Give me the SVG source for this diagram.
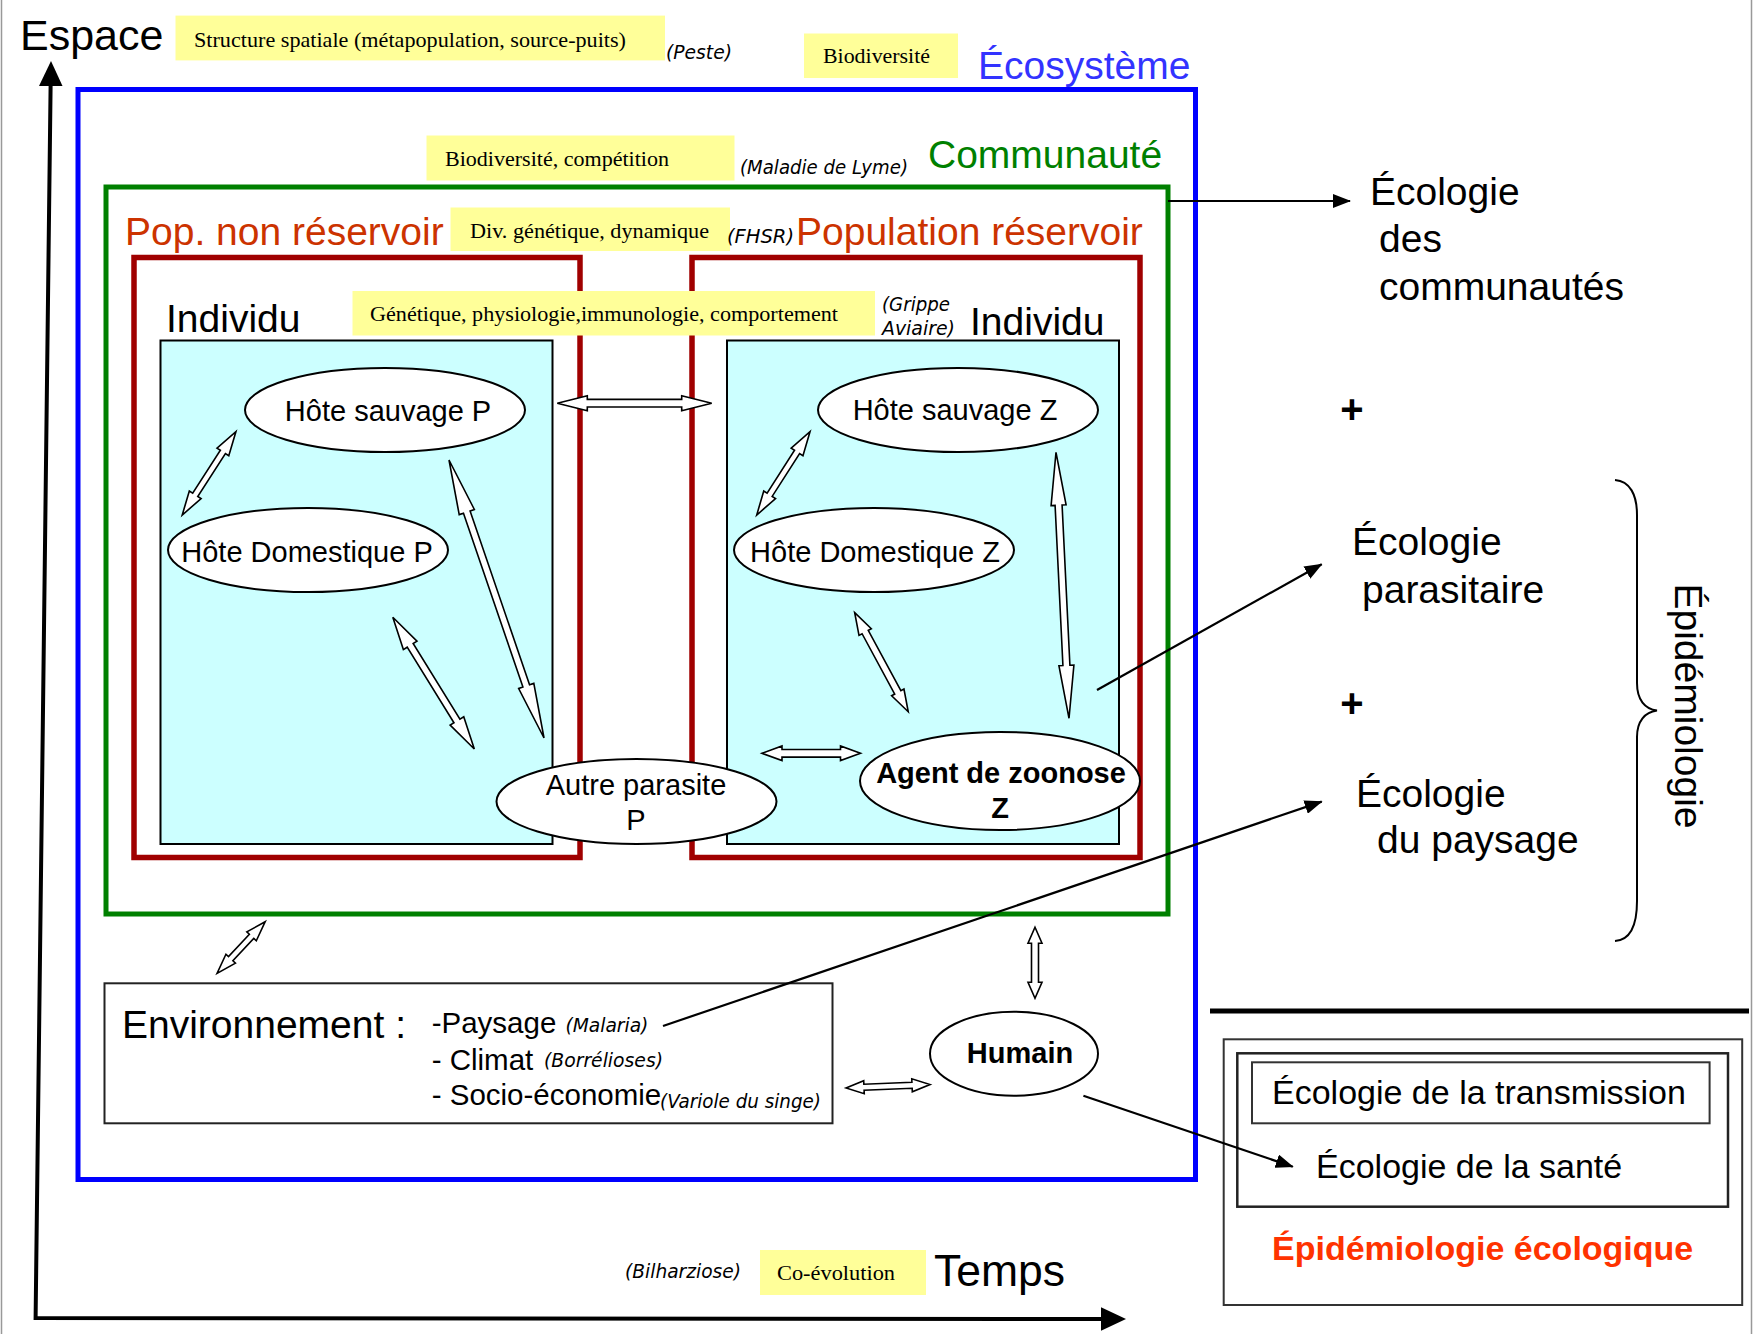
<svg xmlns="http://www.w3.org/2000/svg" width="1753" height="1334" viewBox="0 0 1753 1334">
<style>
 .sans{font-family:"Liberation Sans",Arial,sans-serif;fill:#000;}
 .big{font-family:"Liberation Sans",Arial,sans-serif;font-size:39px;fill:#000;}
 .ax{font-family:"Liberation Sans",Arial,sans-serif;font-size:43px;fill:#000;}
 .ell{font-family:"Liberation Sans",Arial,sans-serif;font-size:29px;fill:#000;}
 .br{font-family:"Liberation Sans",Arial,sans-serif;font-size:34px;fill:#000;}
 .serif{font-family:"Liberation Serif","Times New Roman",serif;font-size:22px;fill:#000;}
 .it{font-family:"DejaVu Sans",sans-serif;font-style:italic;font-size:19.5px;fill:#000;}
 .yel{fill:#ffff99;stroke:none;}
 .oval{fill:#fff;stroke:#000;stroke-width:2;}
 .cyan{fill:#ccffff;stroke:#000;stroke-width:2;}
 .red{fill:none;stroke:#a00000;stroke-width:5.5;}
 .blk{fill:#fff;stroke:#000;stroke-width:1.6;stroke-linejoin:miter;}
 .ln{fill:none;stroke:#000;stroke-width:2.2;marker-end:url(#ah);}
</style>
<defs>
 <marker id="ah" markerUnits="userSpaceOnUse" markerWidth="18" markerHeight="14" refX="17" refY="7" orient="auto"><path d="M0,0 L18,7 L0,14 z" fill="#000"/></marker>
</defs>

<!-- frame -->
<line x1="1.5" y1="0" x2="1.5" y2="1334" stroke="#999" stroke-width="1.5"/>
<line x1="1751.5" y1="0" x2="1751.5" y2="1334" stroke="#999" stroke-width="1.5"/>

<!-- axes -->
<g id="axes">
 <path d="M50.6,86 L35.6,1318 L1102,1319" fill="none" stroke="#000" stroke-width="4"/>
 <polygon points="51,61 39,86 62.5,86" fill="#000"/>
 <polygon points="1126,1319 1101,1307.3 1101,1330.7" fill="#000"/>
 <text class="ax" x="20" y="50">Espace</text>
 <text class="ax" x="934" y="1286" font-size="44.5" style="font-size:44.5px">Temps</text>
</g>

<!-- Ecosysteme -->
<g id="ecosysteme">
 <rect x="78" y="89.5" width="1117.5" height="1090" fill="none" stroke="#0000ff" stroke-width="5"/>
 <text class="big" x="978" y="79" style="fill:#3333ff">Écosystème</text>
</g>

<!-- Communaute -->
<g id="communaute">
 <rect x="106" y="187" width="1062" height="727" fill="none" stroke="#008000" stroke-width="5"/>
 <text class="big" x="928" y="168" style="fill:#008000">Communauté</text>
</g>

<!-- populations -->
<g id="pop-non-reservoir">
 <rect class="red" x="134" y="257.5" width="446" height="600"/>
 <text class="big" x="125" y="245" style="fill:#cc3300">Pop. non réservoir</text>
</g>
<g id="pop-reservoir">
 <rect class="red" x="692" y="257.5" width="448" height="600"/>
 <text class="big" x="796" y="245" style="fill:#cc3300">Population réservoir</text>
</g>

<!-- individus -->
<g id="individu-p">
 <rect class="cyan" x="160.5" y="340.5" width="392" height="503.5"/>
 <text class="big" x="166" y="332">Individu</text>
</g>
<g id="individu-z">
 <rect class="cyan" x="727" y="340.5" width="392" height="503.5"/>
 <text class="big" x="970" y="335">Individu</text>
</g>

<!-- yellow labels -->
<g id="label-structure">
 <rect class="yel" x="175.5" y="15.6" width="489.5" height="44.8"/>
 <text class="serif" x="194" y="47" textLength="432" lengthAdjust="spacingAndGlyphs">Structure spatiale (métapopulation, source-puits)</text>
 <text class="it" x="666" y="59" textLength="66" lengthAdjust="spacingAndGlyphs">(Peste)</text>
</g>
<g id="label-biodiv">
 <rect class="yel" x="804" y="33.5" width="154" height="44.5"/>
 <text class="serif" x="823" y="63" textLength="107" lengthAdjust="spacingAndGlyphs">Biodiversité</text>
</g>
<g id="label-biodiv-comp">
 <rect class="yel" x="426.5" y="135.5" width="308" height="45"/>
 <text class="serif" x="445" y="166" textLength="224" lengthAdjust="spacingAndGlyphs">Biodiversité, compétition</text>
 <text class="it" x="740" y="174" textLength="168" lengthAdjust="spacingAndGlyphs">(Maladie de Lyme)</text>
</g>
<g id="label-divgen">
 <rect class="yel" x="450.5" y="207.5" width="279.5" height="43.5"/>
 <text class="serif" x="470" y="238" textLength="239" lengthAdjust="spacingAndGlyphs">Div. génétique, dynamique</text>
 <text class="it" x="727" y="243" textLength="67" lengthAdjust="spacingAndGlyphs">(FHSR)</text>
</g>
<g id="label-genetique">
 <rect class="yel" x="352.5" y="291" width="522.5" height="44.5"/>
 <text class="serif" x="370" y="321" textLength="468" lengthAdjust="spacingAndGlyphs">Génétique, physiologie,immunologie, comportement</text>
 <text class="it" x="882" y="311" textLength="68" lengthAdjust="spacingAndGlyphs">(Grippe</text>
 <text class="it" x="882" y="335" textLength="73" lengthAdjust="spacingAndGlyphs">Aviaire)</text>
</g>
<g id="label-coevolution">
 <rect class="yel" x="760" y="1250" width="166" height="45"/>
 <text class="serif" x="777" y="1280" textLength="118" lengthAdjust="spacingAndGlyphs">Co-évolution</text>
 <text class="it" x="625" y="1278" textLength="116" lengthAdjust="spacingAndGlyphs">(Bilharziose)</text>
</g>

<!-- connectors -->
<g id="connectors">
 <polygon class="blk" transform="translate(557.3,403.2)" points="0,0 30,-7.5 30,-3.8 124.4,-3.8 124.4,-7.5 154.4,0 124.4,7.5 124.4,3.8 30,3.8 30,7.5"/>
 <polygon class="blk" transform="translate(235.9,431.7) rotate(122.8)" points="0,0 24,-7 24,-3 75.1,-3 75.1,-7 99.1,0 75.1,7 75.1,3 24,3 24,7"/>
 <polygon class="blk" transform="translate(449,460) rotate(71.13)" points="0,0 55,-8 55,-3.5 238.8,-3.5 238.8,-8 293.8,0 238.8,8 238.8,3.5 55,3.5 55,8"/>
 <polygon class="blk" transform="translate(392.8,617.3) rotate(58.25)" points="0,0 33,-8 33,-3.5 121.9,-3.5 121.9,-8 154.9,0 121.9,8 121.9,3.5 33,3.5 33,8"/>
 <polygon class="blk" transform="translate(810,431.7) rotate(122.6)" points="0,0 24,-7 24,-3 74.9,-3 74.9,-7 98.9,0 74.9,7 74.9,3 24,3 24,7"/>
 <polygon class="blk" transform="translate(1056,452.3) rotate(87.2)" points="0,0 53,-7.5 53,-3.5 213.3,-3.5 213.3,-7.5 266.3,0 213.3,7.5 213.3,3.5 53,3.5 53,7.5"/>
 <polygon class="blk" transform="translate(854.7,612.7) rotate(61.6)" points="0,0 22,-7 22,-3.5 90.6,-3.5 90.6,-7 112.6,0 90.6,7 90.6,3.5 22,3.5 22,7"/>
 <polygon class="blk" transform="translate(762,753.3)" points="0,0 20,-7.3 20,-3.8 78.5,-3.8 78.5,-7.3 98.5,0 78.5,7.3 78.5,3.8 20,3.8 20,7.3"/>
 <polygon class="blk" transform="translate(265.2,921.7) rotate(133)" points="0,0 20,-6.5 20,-3 50.6,-3 50.6,-6.5 70.6,0 50.6,6.5 50.6,3 20,3 20,6.5"/>
 <polygon class="blk" transform="translate(1035,927.3) rotate(90)" points="0,0 16,-7 16,-3.5 55,-3.5 55,-7 71,0 55,7 55,3.5 16,3.5 16,7"/>
 <polygon class="blk" transform="translate(846,1088) rotate(-2.39)" points="0,0 18,-6.5 18,-3 66.1,-3 66.1,-6.5 84.1,0 66.1,6.5 66.1,3 18,3 18,6.5"/>
</g>

<!-- host nodes -->
<g id="hote-sauvage-p">
 <ellipse class="oval" cx="385" cy="410" rx="140" ry="42"/>
 <text class="ell" x="388" y="421" text-anchor="middle">Hôte sauvage P</text>
</g>
<g id="hote-domestique-p">
 <ellipse class="oval" cx="308" cy="550" rx="140" ry="42"/>
 <text class="ell" x="307" y="562" text-anchor="middle">Hôte Domestique P</text>
</g>
<g id="hote-sauvage-z">
 <ellipse class="oval" cx="958" cy="410" rx="140" ry="42"/>
 <text class="ell" x="955" y="420" text-anchor="middle">Hôte sauvage Z</text>
</g>
<g id="hote-domestique-z">
 <ellipse class="oval" cx="874" cy="550" rx="140" ry="42"/>
 <text class="ell" x="875" y="562" text-anchor="middle">Hôte Domestique Z</text>
</g>
<g id="autre-parasite-p">
 <ellipse class="oval" cx="636.5" cy="801.5" rx="140" ry="42.5"/>
 <text class="ell" x="636" y="795" text-anchor="middle">Autre parasite</text>
 <text class="ell" x="636" y="830" text-anchor="middle">P</text>
</g>
<g id="agent-zoonose-z">
 <ellipse class="oval" cx="1000" cy="781" rx="140" ry="49"/>
 <text class="ell" x="1001" y="783" text-anchor="middle" font-weight="bold">Agent de zoonose</text>
 <text class="ell" x="1000" y="818" text-anchor="middle" font-weight="bold">Z</text>
</g>
<g id="humain">
 <ellipse class="oval" cx="1014" cy="1053.7" rx="84" ry="42"/>
 <text class="ell" x="1020" y="1063" text-anchor="middle" font-weight="bold">Humain</text>
</g>

<!-- environnement -->
<g id="environnement">
 <rect x="104.5" y="983.3" width="728" height="140" fill="#fff" stroke="#222" stroke-width="2"/>
 <text class="big" x="122" y="1038">Environnement :</text>
 <text class="sans" font-size="29.5" x="431.7" y="1033">-Paysage</text>
 <text class="it" x="565.4" y="1032" textLength="83" lengthAdjust="spacingAndGlyphs">(Malaria)</text>
 <text class="sans" font-size="29.5" x="431.7" y="1070">- Climat</text>
 <text class="it" x="544" y="1067" textLength="119" lengthAdjust="spacingAndGlyphs">(Borrélioses)</text>
 <text class="sans" font-size="29.5" x="431.7" y="1105">- Socio-économie</text>
 <text class="it" x="660" y="1108" textLength="161" lengthAdjust="spacingAndGlyphs">(Variole du singe)</text>
</g>

<!-- right side -->
<g id="ecologie-communautes">
 <text class="big" x="1370" y="205">Écologie</text>
 <text class="big" x="1379" y="252">des</text>
 <text class="big" x="1379" y="300">communautés</text>
</g>
<text class="sans" font-size="40" font-weight="bold" x="1352" y="423" text-anchor="middle">+</text>
<g id="ecologie-parasitaire">
 <text class="big" x="1352" y="555">Écologie</text>
 <text class="big" x="1362" y="603">parasitaire</text>
</g>
<text class="sans" font-size="40" font-weight="bold" x="1352" y="717" text-anchor="middle">+</text>
<g id="ecologie-paysage">
 <text class="big" x="1356" y="807">Écologie</text>
 <text class="big" x="1377" y="853">du paysage</text>
</g>
<g id="epidemiologie">
 <path d="M1615,480 C1630,481 1637,495 1637,515 L1637,683 C1637,700 1645,709 1657,710.5 C1645,712 1637,721 1637,737 L1637,901 C1637,925 1630,940 1615,941" fill="none" stroke="#000" stroke-width="2"/>
 <text class="big" transform="translate(1675,583.5) rotate(90)">Épidémiologie</text>
</g>
<line x1="1210" y1="1011" x2="1749" y2="1011" stroke="#000" stroke-width="5"/>
<g id="epidemiologie-ecologique">
 <rect x="1223.7" y="1039.3" width="518.5" height="265.7" fill="none" stroke="#333" stroke-width="2"/>
 <rect x="1237.3" y="1053.3" width="490.7" height="153.4" fill="none" stroke="#222" stroke-width="2.5"/>
 <text class="br" x="1272" y="1260" font-weight="bold" style="fill:#ff3300">Épidémiologie écologique</text>
</g>
<g id="ecologie-transmission">
 <rect x="1252" y="1062.3" width="457.6" height="61" fill="none" stroke="#333" stroke-width="2"/>
 <text class="br" x="1272" y="1104">Écologie de la transmission</text>
</g>
<g id="ecologie-sante">
 <text class="br" x="1316" y="1178">Écologie de la santé</text>
</g>

<!-- line arrows -->
<g id="line-connectors">
 <line class="ln" x1="1168" y1="201" x2="1350" y2="201"/>
 <line class="ln" x1="1097" y1="690" x2="1321.7" y2="564.3"/>
 <line class="ln" x1="663" y1="1026" x2="1321.7" y2="801.6"/>
 <line class="ln" x1="1083.4" y1="1095.7" x2="1292.8" y2="1166.7"/>
</g>
</svg>
